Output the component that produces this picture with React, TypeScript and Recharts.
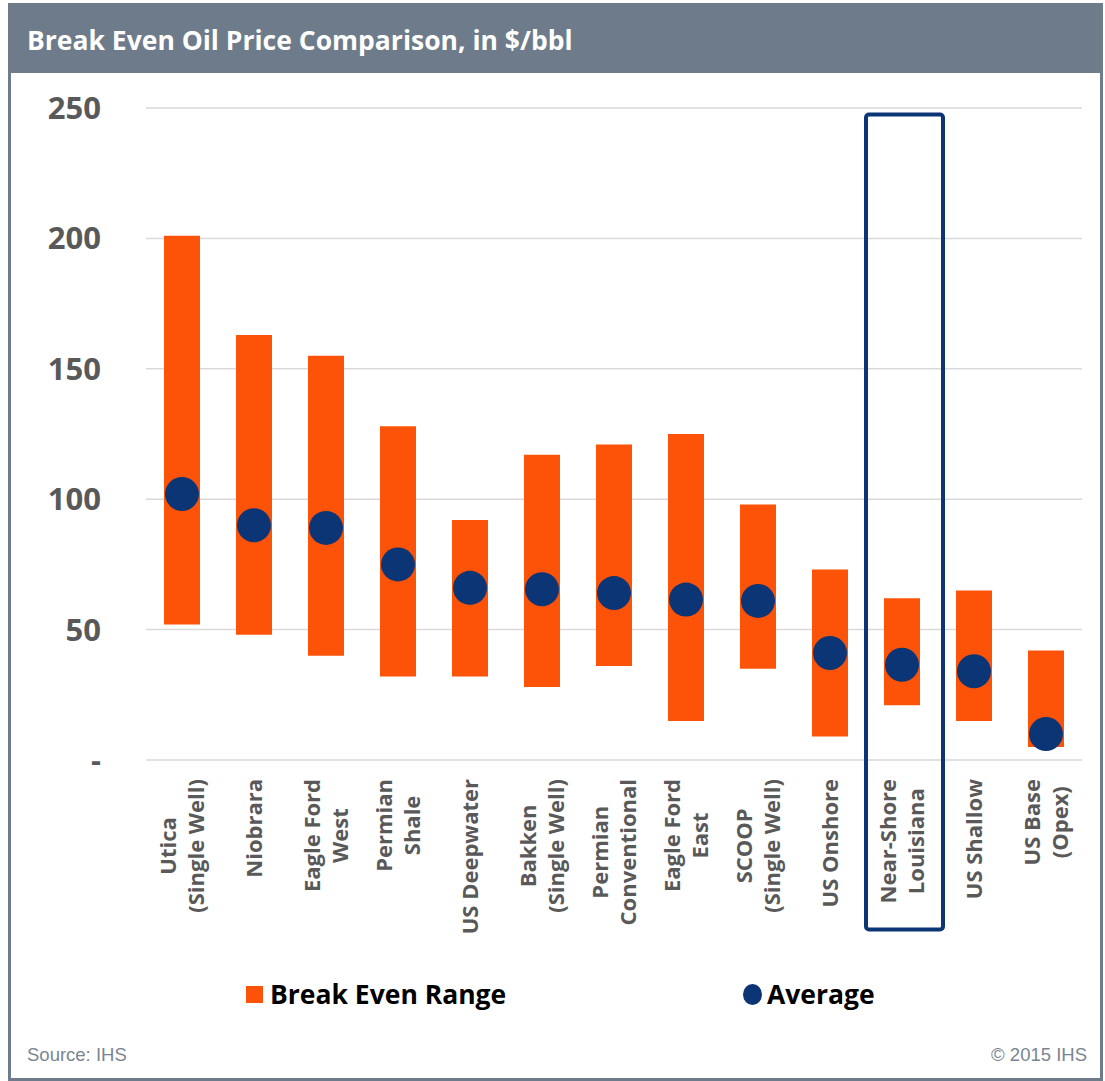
import React from 'react';
import {
  ComposedChart,
  Bar,
  Line,
  XAxis,
  YAxis,
  CartesianGrid,
  ReferenceArea,
  Legend,
} from 'recharts';

const categories = [
  'Utica (Single Well)',
  'Niobrara',
  'Eagle Ford West',
  'Permian Shale',
  'US Deepwater',
  'Bakken (Single Well)',
  'Permian Conventional',
  'Eagle Ford East',
  'SCOOP (Single Well)',
  'US Onshore',
  'Near-Shore Louisiana',
  'US Shallow',
  'US Base (Opex)',
];

const tickLines = [
  ['Utica', '(Single Well)'],
  ['Niobrara'],
  ['Eagle Ford', 'West'],
  ['Permian', 'Shale'],
  ['US Deepwater'],
  ['Bakken', '(Single Well)'],
  ['Permian', 'Conventional'],
  ['Eagle Ford', 'East'],
  ['SCOOP', '(Single Well)'],
  ['US Onshore'],
  ['Near-Shore', 'Louisiana'],
  ['US Shallow'],
  ['US Base', '(Opex)'],
];

const lows = [52, 48, 40, 32, 32, 28, 36, 15, 35, 9, 21, 15, 5];
const highs = [201, 163, 155, 128, 92, 117, 121, 125, 98, 73, 62, 65, 42];
const averages = [102, 90, 89, 75, 66, 65.5, 64, 61.5, 61, 41, 36.5, 34, 10];

const yTicks = [0, 50, 100, 150, 200, 250];
const highlighted = 'Near-Shore Louisiana';

const ORANGE = '#fd5308';
const NAVY = '#0c3576';
const FRAME = '#6e7b8b';
const TEXT = '#595959';
const FONT = '"Open Sans", sans-serif';
const LEGEND_H = 40;

const data = categories.map((name, i) => ({
  name,
  range: [lows[i], highs[i]],
  avg: averages[i],
}));

let ctx: CanvasRenderingContext2D | null = null;
const textWidth = (t: string, font: string) => {
  if (!ctx) ctx = document.createElement('canvas').getContext('2d');
  if (!ctx) return t.length * 12;
  ctx.font = font;
  return ctx.measureText(t).width;
};

const CategoryTick = (props: any) => {
  const { x, y, payload } = props;
  const lines = tickLines[categories.indexOf(payload.value)] || [payload.value];
  const font = `bold 22px "Open Sans"`;
  const maxW = Math.max(...lines.map((l) => textWidth(l, font)));
  const cx = -(19 + maxW / 2);
  return (
    <g transform={`translate(${x},${y})`}>
      <text
        transform="rotate(-90)"
        textAnchor="middle"
        fontFamily={FONT}
        fontSize={22}
        fontWeight="bold"
        fill={TEXT}
      >
        {lines.map((l, i) => (
          <tspan key={i} x={cx} y={(i - (lines.length - 1) / 2) * 28 + 8}>
            {l}
          </tspan>
        ))}
      </text>
    </g>
  );
};

// highlight box is a bit wider than the category band in the original
const HighlightBox = (props: any) => {
  const { x, y, width, height } = props;
  return (
    <rect
      x={x}
      y={y}
      width={width + 5}
      height={height}
      rx={3}
      ry={3}
      fill="none"
      stroke={NAVY}
      strokeWidth={4}
    />
  );
};

const LegendBox = () => (
  <div
    style={{
      position: 'relative',
      height: LEGEND_H,
      fontFamily: FONT,
      fontWeight: 'bold',
      fontSize: 26.5,
      color: '#000',
    }}
  >
    <span style={{ position: 'absolute', left: 246, top: 11, width: 17, height: 17, background: ORANGE }} />
    <span style={{ position: 'absolute', left: 270, top: 0, lineHeight: '38px' }}>Break Even Range</span>
    <span
      style={{ position: 'absolute', left: 743, top: 9, width: 19, height: 21, borderRadius: '50%', background: NAVY }}
    />
    <span style={{ position: 'absolute', left: 767, top: 0, lineHeight: '38px' }}>Average</span>
  </div>
);

const App: React.FC = () => {
  return (
    <div style={{ position: 'absolute', left: 0, top: 0, width: 1105, height: 1081 }}>
      <div
        style={{
          position: 'absolute',
          left: 8,
          top: 3,
          width: 1095,
          height: 1078,
          border: `3px solid ${FRAME}`,
          boxSizing: 'border-box',
          background: '#fff',
        }}
      />
      <div
        style={{
          position: 'absolute',
          left: 8,
          top: 3,
          width: 1095,
          height: 70,
          background: FRAME,
          color: '#fff',
          fontFamily: FONT,
          fontWeight: 'bold',
          fontSize: 26.5,
          lineHeight: '74px',
          paddingLeft: 19,
          boxSizing: 'border-box',
        }}
      >
        Break Even Oil Price Comparison, in $/bbl
      </div>

      <div style={{ position: 'absolute', left: 0, top: 0 }}>
        <ComposedChart
          width={1105}
          height={1081}
          data={data}
          margin={{ top: 108, right: 23, left: 86, bottom: 121 - LEGEND_H }}
        >
          <CartesianGrid vertical={false} stroke="#d9d9d9" strokeWidth={1.5} />
          <XAxis
            dataKey="name"
            interval={0}
            axisLine={false}
            tickLine={false}
            tickSize={0}
            tickMargin={0}
            height={200}
            tick={<CategoryTick />}
          />
          <YAxis
            width={60}
            domain={[0, 250]}
            ticks={yTicks}
            axisLine={false}
            tickLine={false}
            tickSize={0}
            tickMargin={45}
            tickFormatter={(v: number) => (v === 0 ? '-' : String(v))}
            tick={{ fontFamily: FONT, fontSize: 31, fontWeight: 'bold', fill: TEXT }}
          />
          <Bar dataKey="range" name="Break Even Range" fill={ORANGE} barSize={36} isAnimationActive={false} />
          <Line
            dataKey="avg"
            name="Average"
            stroke="none"
            dot={{ r: 17, fill: NAVY, stroke: 'none' }}
            activeDot={false}
            isAnimationActive={false}
          />
          <ReferenceArea
            x1={highlighted}
            x2={highlighted}
            y1={-65}
            y2={247.5}
            ifOverflow="visible"
            shape={<HighlightBox />}
          />
          <Legend
            verticalAlign="bottom"
            content={() => <LegendBox />}
            wrapperStyle={{ position: 'absolute', left: 0, top: 975, width: 1105 }}
          />
        </ComposedChart>
      </div>

      <div
        style={{
          position: 'absolute',
          left: 27,
          top: 1044,
          fontFamily: '"Liberation Sans", Arial, sans-serif',
          fontSize: 18.5,
          color: '#7b8591',
        }}
      >
        Source: IHS
      </div>
      <div
        style={{
          position: 'absolute',
          right: 1105 - 1087,
          top: 1044,
          fontFamily: '"Liberation Sans", Arial, sans-serif',
          fontSize: 18.5,
          color: '#7b8591',
        }}
      >
        © 2015 IHS
      </div>
    </div>
  );
};

export default App;
